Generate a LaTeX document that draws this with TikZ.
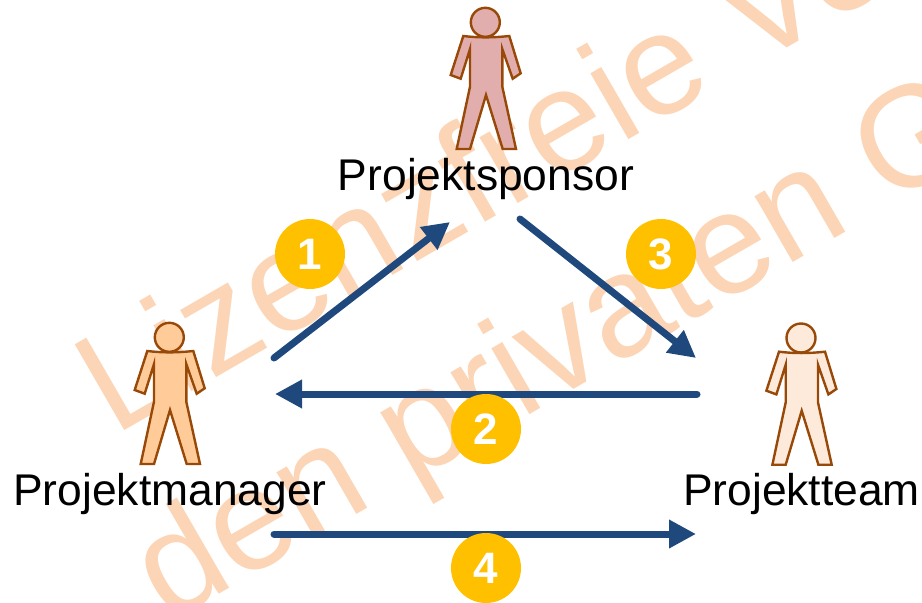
\documentclass[tikz,border=0pt]{standalone}
\usepackage{fontspec}
\setmainfont{Liberation Sans}
\usetikzlibrary{arrows.meta}
\definecolor{wm}{HTML}{FBD5B5}
\definecolor{arrowblue}{HTML}{1F497D}
\definecolor{badge}{HTML}{FFC000}
\definecolor{outl}{HTML}{984807}
\definecolor{fillA}{HTML}{E2ADAD}
\definecolor{fillB}{HTML}{FFCC99}
\definecolor{fillC}{HTML}{FDEADA}
\tikzset{
  x=1pt,y=-1pt,
  watermark/.style={anchor=base west,rotate=30,text=wm,inner sep=0pt,font=\fontsize{144}{144}\selectfont},
  caption/.style={anchor=base,inner sep=0pt,text=black,font=\fontsize{44.4}{44.4}\selectfont},
  flow/.style={draw=arrowblue,line width=7pt,line cap=round,-{Triangle[length=27pt,width=27pt]}},
  numbadge/.style={circle,fill=badge,draw=none,minimum size=70pt,inner sep=0pt,text=white,font=\fontsize{44}{44}\selectfont\bfseries},
  figure/.style={draw=outl,line width=2.4pt,line join=miter,fill=#1},
  person/.pic={
    \path[pic actions] (-22,13.7) .. controls (-7,15.5) and (7,15.5) .. (24,13.7)
      -- (35.4,51) -- (27.4,56.4) -- (17,26.7) -- (17,64.4) -- (30.7,126.7) -- (17.4,126.7)
      -- (0.7,72.7) -- (-15.3,126.7) -- (-28.6,126.7) -- (-15.3,64.4) -- (-15.3,26.7)
      -- (-24.6,56.4) -- (-34.6,52.7) -- cycle;
    \path[pic actions] (0,0) circle[radius=14.5pt];
  }
}
\begin{document}
\begin{tikzpicture}
\useasboundingbox (0,0) rectangle (922,603);
\begin{scope}
\clip (0,0) rectangle (922,603);
\node[watermark] (wmone) at (114,437) {Lizenzfreie Ve};
\node[watermark] (wmtwo) at (168,624) {den privaten G};
\end{scope}

\coordinate (a1s) at (274,358);
\coordinate (a1e) at (450,222);
\coordinate (a2s) at (697,394);
\coordinate (a2e) at (275,394);
\coordinate (a3s) at (520,219);
\coordinate (a3e) at (696,358);
\coordinate (a4s) at (274,534);
\coordinate (a4e) at (696,534);
\draw[flow] (a1s) -- (a1e);
\draw[flow] (a2s) -- (a2e);
\draw[flow] (a3s) -- (a3e);
\draw[flow] (a4s) -- (a4e);

\node[numbadge] (n1) at (310,254) {1};
\node[numbadge] (n2) at (486,429) {2};
\node[numbadge] (n3) at (661,254) {3};
\node[numbadge] (n4) at (486,568) {4};

\pic[figure=fillA] at (485.3,22.3) {person};
\pic[figure=fillB] at (169.3,337.3) {person};
\pic[figure=fillC] at (801,338) {person};

\node[caption] (sponsor) at (486,190) {Projektsponsor};
\node[caption] (manager) at (170,505) {Projektmanager};
\node[caption] (team) at (801.5,505) {Projektteam};
\end{tikzpicture}
\end{document}
